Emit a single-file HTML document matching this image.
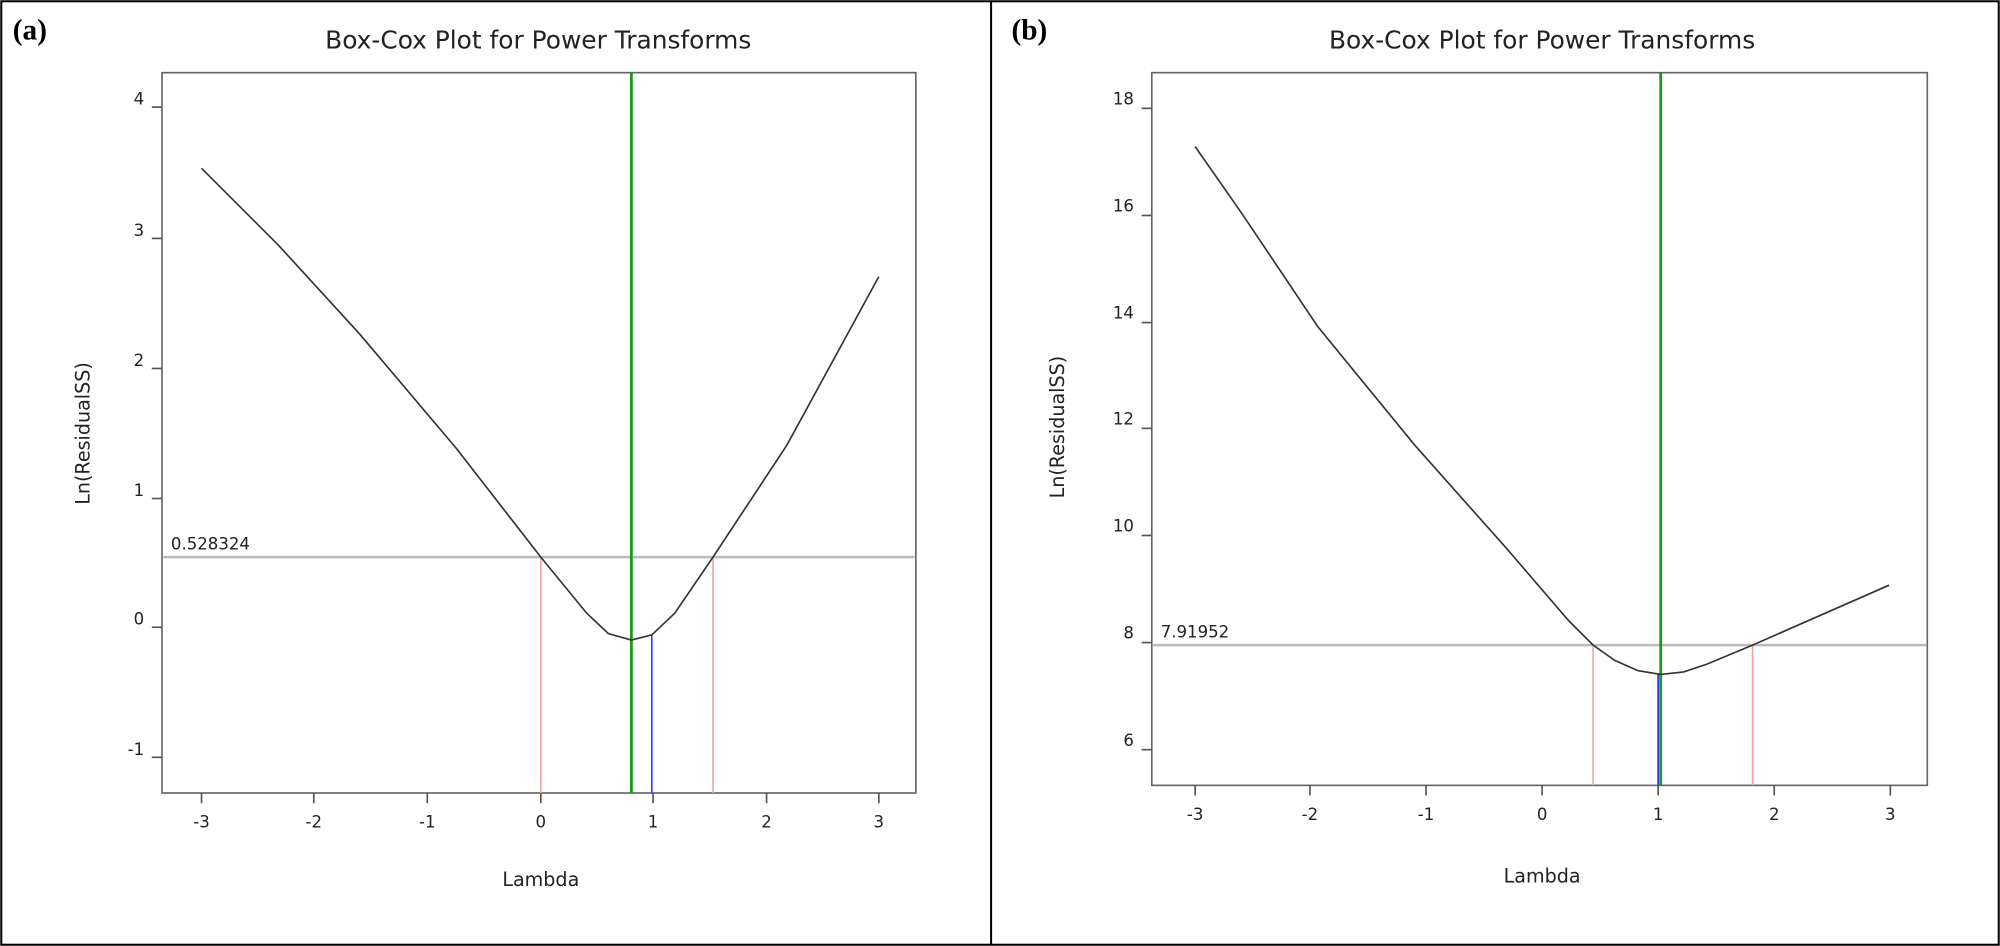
<!DOCTYPE html>
<html><head><meta charset="utf-8"><style>
html,body{margin:0;padding:0;background:#fff;}
svg{display:block;}
text{font-family:"DejaVu Sans","Liberation Sans",sans-serif;fill:#222;}
.t{font-size:13px;}
.ti{font-size:19.5px;}
.ax{font-size:15px;}
.lab{font-family:"Liberation Serif",serif;font-weight:bold;font-size:23px;fill:#000;}
</style></head><body>
<svg width="2000" height="946" viewBox="0 0 1568 742" preserveAspectRatio="none" xmlns="http://www.w3.org/2000/svg">
<rect x="1" y="1" width="1566" height="740" fill="#fff" stroke="#000" stroke-width="1.6"/>
<line x1="777" y1="1" x2="777" y2="741" stroke="#000" stroke-width="1.6"/>

<!-- Panel a -->
<text class="lab" x="10" y="31">(a)</text>
<text class="ti" x="422" y="38" text-anchor="middle">Box-Cox Plot for Power Transforms</text>
<rect x="127" y="57" width="591" height="565" fill="none" stroke="#666" stroke-width="1.3"/>
<g stroke="#555" stroke-width="1.3">
<line x1="119" y1="84" x2="127" y2="84"/><line x1="119" y1="187" x2="127" y2="187"/><line x1="119" y1="289" x2="127" y2="289"/><line x1="119" y1="391" x2="127" y2="391"/><line x1="119" y1="492" x2="127" y2="492"/><line x1="119" y1="594" x2="127" y2="594"/>
<line x1="158" y1="622" x2="158" y2="630"/><line x1="246" y1="622" x2="246" y2="630"/><line x1="335" y1="622" x2="335" y2="630"/><line x1="424" y1="622" x2="424" y2="630"/><line x1="512" y1="622" x2="512" y2="630"/><line x1="601" y1="622" x2="601" y2="630"/><line x1="689" y1="622" x2="689" y2="630"/>
</g>
<g class="t" text-anchor="end">
<text x="113" y="82">4</text><text x="113" y="185">3</text><text x="113" y="287">2</text><text x="113" y="389">1</text><text x="113" y="490">0</text><text x="113" y="592">-1</text>
</g>
<g class="t" text-anchor="middle">
<text x="158" y="649">-3</text><text x="246" y="649">-2</text><text x="335" y="649">-1</text><text x="424" y="649">0</text><text x="512" y="649">1</text><text x="601" y="649">2</text><text x="689" y="649">3</text>
</g>
<text class="ax" x="424" y="695" text-anchor="middle">Lambda</text>
<text class="ax" transform="translate(70,340) rotate(-90)" text-anchor="middle">Ln(ResidualSS)</text>
<line x1="128" y1="437" x2="717" y2="437" stroke="#bbb" stroke-width="2"/>
<text class="t" x="134" y="431">0.528324</text>
<line x1="424" y1="437" x2="424" y2="622" stroke="#f4a0a0" stroke-width="1.2"/>
<line x1="559" y1="437" x2="559" y2="622" stroke="#f4a0a0" stroke-width="1.2"/>
<line x1="511" y1="498" x2="511" y2="622" stroke="#3a3aff" stroke-width="1.3"/>
<line x1="495" y1="57" x2="495" y2="622" stroke="#1a9a1a" stroke-width="2.2"/>
<polyline fill="none" stroke="#333" stroke-width="1.3" points="158,132 218,192 282,262 358,352 424,437 460,481 477,497 495,502 511,498 529,481 559,437 617,349 689,217"/>

<!-- Panel b -->
<text class="lab" x="793" y="31">(b)</text>
<text class="ti" x="1209" y="38" text-anchor="middle">Box-Cox Plot for Power Transforms</text>
<rect x="903" y="57" width="608" height="559" fill="none" stroke="#666" stroke-width="1.3"/>
<g stroke="#555" stroke-width="1.3">
<line x1="895" y1="85" x2="903" y2="85"/><line x1="895" y1="169" x2="903" y2="169"/><line x1="895" y1="253" x2="903" y2="253"/><line x1="895" y1="336" x2="903" y2="336"/><line x1="895" y1="420" x2="903" y2="420"/><line x1="895" y1="504" x2="903" y2="504"/><line x1="895" y1="588" x2="903" y2="588"/>
<line x1="937" y1="616" x2="937" y2="624"/><line x1="1027" y1="616" x2="1027" y2="624"/><line x1="1118" y1="616" x2="1118" y2="624"/><line x1="1209" y1="616" x2="1209" y2="624"/><line x1="1300" y1="616" x2="1300" y2="624"/><line x1="1391" y1="616" x2="1391" y2="624"/><line x1="1482" y1="616" x2="1482" y2="624"/>
</g>
<g class="t" text-anchor="end">
<text x="889" y="82">18</text><text x="889" y="166">16</text><text x="889" y="250">14</text><text x="889" y="333">12</text><text x="889" y="417">10</text><text x="889" y="501">8</text><text x="889" y="585">6</text>
</g>
<g class="t" text-anchor="middle">
<text x="937" y="643">-3</text><text x="1027" y="643">-2</text><text x="1118" y="643">-1</text><text x="1209" y="643">0</text><text x="1300" y="643">1</text><text x="1391" y="643">2</text><text x="1482" y="643">3</text>
</g>
<text class="ax" x="1209" y="692" text-anchor="middle">Lambda</text>
<text class="ax" transform="translate(834,335) rotate(-90)" text-anchor="middle">Ln(ResidualSS)</text>
<line x1="904" y1="506" x2="1510" y2="506" stroke="#bbb" stroke-width="2"/>
<text class="t" x="910" y="500">7.91952</text>
<line x1="1249" y1="506" x2="1249" y2="616" stroke="#f4a0a0" stroke-width="1.2"/>
<line x1="1374" y1="506" x2="1374" y2="616" stroke="#f4a0a0" stroke-width="1.2"/>
<line x1="1300" y1="528" x2="1300" y2="616" stroke="#3a3aff" stroke-width="1.5"/>
<line x1="1302" y1="57" x2="1302" y2="616" stroke="#1a9a1a" stroke-width="2.2"/>
<polyline fill="none" stroke="#333" stroke-width="1.3" points="937,115 974,168 1033,256 1109,349 1181,430 1230,487 1249,506 1266,518 1284,526 1302,529 1320,527 1338,521 1374,506 1481,459"/>
</svg>
</body></html>
